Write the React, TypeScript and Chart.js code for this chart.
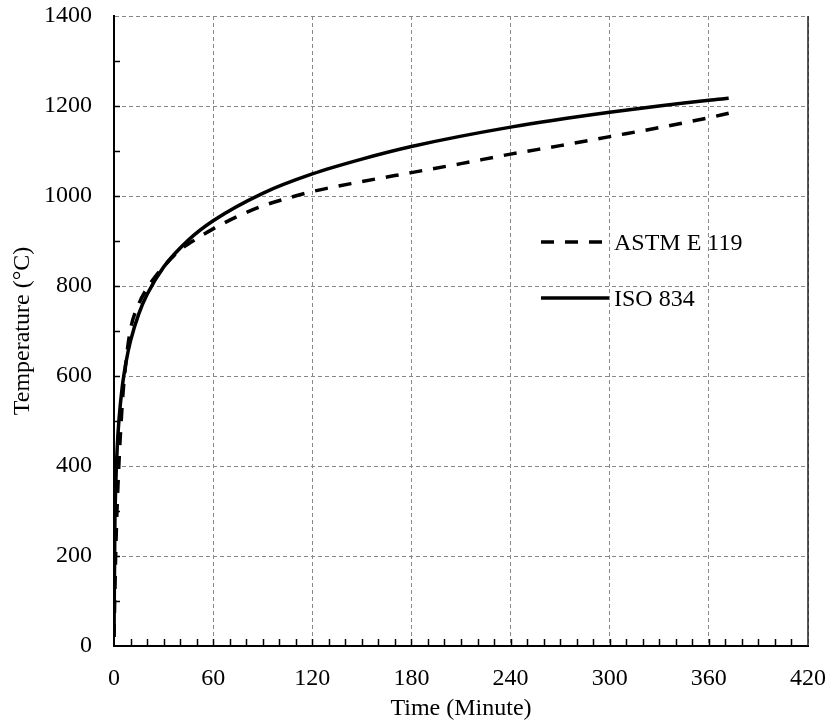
import React, { useEffect, useRef } from "react";
import { Chart, registerables } from "chart.js";
Chart.register(...registerables);

// ---- data ----
const astmLabel = "ASTM E 119";
const isoLabel = "ISO 834";
const astmTimes = [0, 1, 2, 5, 7.5, 10, 15, 20, 25, 30, 40, 50, 60, 75, 90, 105, 120, 150, 180, 210, 240, 270, 300, 330, 360, 372];
const astmTemps = [20, 200, 320, 538, 640, 704, 760, 795, 821, 843, 880, 905, 927, 955, 978, 995, 1010, 1032, 1052, 1072, 1093, 1112, 1132, 1152, 1174, 1184];
const isoTimes = [0, 0.5, 1, 2, 3, 5, 7.5, 10, 15, 20, 30, 45, 60, 90, 120, 150, 180, 240, 300, 360, 372];
const isoTemps = [20, 260, 350, 445, 502, 576, 635, 678, 738, 781, 842, 902, 945, 1006, 1049, 1082, 1110, 1153, 1186, 1213, 1217];

const xMin = 0, xMax = 420, xStep = 60, xMinor = 10;
const yMin = 0, yMax = 1400, yStep = 200, yMinor = 100;
const xTitle = "Time (Minute)";
const yTitle = "Temperature (°C)";

const FONT = "'Liberation Serif', 'Times New Roman', serif";

const decorPlugin = {
  id: "decor",
  afterDatasetsDraw(chart: any) {
    const { ctx, chartArea, scales } = chart;
    const xs = scales.x, ys = scales.y;
    ctx.save();
    // right frame line
    ctx.strokeStyle = "#222";
    ctx.lineWidth = 1.5;
    ctx.setLineDash([]);
    ctx.beginPath();
    ctx.moveTo(chartArea.right, chartArea.top);
    ctx.lineTo(chartArea.right, chartArea.bottom);
    ctx.stroke();
    // inward minor ticks
    ctx.strokeStyle = "#000";
    ctx.lineWidth = 1.5;
    for (let v = xMin + xMinor; v < xMax; v += xMinor) {
      const px = Math.round(xs.getPixelForValue(v)) + 0.5;
      ctx.beginPath();
      ctx.moveTo(px, chartArea.bottom);
      ctx.lineTo(px, chartArea.bottom - 7);
      ctx.stroke();
    }
    for (let v = yMin + yMinor; v < yMax; v += yMinor) {
      const py = Math.round(ys.getPixelForValue(v)) + 0.5;
      ctx.beginPath();
      ctx.moveTo(chartArea.left, py);
      ctx.lineTo(chartArea.left + 6, py);
      ctx.stroke();
    }
    // legend inside the plot
    const entries = [
      { ds: chart.data.datasets[0], y: Math.round(ys.getPixelForValue(898)) },
      { ds: chart.data.datasets[1], y: Math.round(ys.getPixelForValue(773)) },
    ];
    const x0 = chartArea.left + 427;
    ctx.font = `24px ${FONT}`;
    ctx.textBaseline = "middle";
    ctx.fillStyle = "#000";
    entries.forEach((e, i) => {
      ctx.strokeStyle = "#000";
      ctx.lineWidth = 3.5;
      ctx.lineCap = "butt";
      ctx.setLineDash(e.ds.borderDash || []);
      ctx.beginPath();
      ctx.moveTo(x0, e.y);
      ctx.lineTo(x0 + (i === 0 ? 62 : 68), e.y);
      ctx.stroke();
      ctx.setLineDash([]);
      ctx.fillText(e.ds.label, x0 + 73, e.y + 2);
    });
    ctx.restore();
  },
};

export default function App() {
  const ref = useRef<HTMLCanvasElement | null>(null);
  useEffect(() => {
    if (!ref.current) return;
    const chart = new Chart(ref.current, {
      type: "line",
      data: {
        datasets: [
          {
            label: astmLabel,
            data: astmTimes.map((t, i) => ({ x: t, y: astmTemps[i] })),
            borderColor: "#000",
            borderWidth: 3.5,
            borderDash: [13, 11],
            pointRadius: 0,
            cubicInterpolationMode: "monotone",
            fill: false,
          },
          {
            label: isoLabel,
            data: isoTimes.map((t, i) => ({ x: t, y: isoTemps[i] })),
            borderColor: "#000",
            borderWidth: 3.5,
            pointRadius: 0,
            cubicInterpolationMode: "monotone",
            fill: false,
          },
        ],
      },
      options: {
        animation: false,
        responsive: false,
        maintainAspectRatio: false,
        layout: { padding: { top: 16, right: 22, left: 0, bottom: 0 } },
        plugins: { legend: { display: false }, tooltip: { enabled: false } },
        font: { family: FONT, size: 24 },
        scales: {
          x: {
            type: "linear",
            min: xMin,
            max: xMax,
            afterFit: (s: any) => { s.height = 77; s.paddingLeft = 0; s.paddingRight = 0; },
            ticks: {
              stepSize: xStep,
              color: "#000",
              padding: 18,
              maxRotation: 0,
              font: { family: FONT, size: 24 },
              callback: (v: any) => String(v),
            },
            grid: { color: "#888", lineWidth: 1, drawTicks: false },
            border: { display: true, color: "#000", width: 2, dash: [4, 3] },
            title: {
              display: true,
              text: xTitle,
              color: "#000",
              font: { family: FONT, size: 24 },
              padding: { top: 0, bottom: 0 },
            },
          },
          y: {
            type: "linear",
            min: yMin,
            max: yMax,
            afterFit: (s: any) => { s.width = 114; s.paddingTop = 0; s.paddingBottom = 0; },
            ticks: {
              stepSize: yStep,
              color: "#000",
              padding: 22,
              font: { family: FONT, size: 24 },
              callback: (v: any) => String(v),
            },
            grid: { color: "#888", lineWidth: 1, drawTicks: false },
            border: { display: true, color: "#000", width: 2, dash: [4, 3] },
            title: {
              display: true,
              text: yTitle,
              color: "#000",
              font: { family: FONT, size: 24 },
              padding: { top: 8, bottom: 0 },
            },
          },
        },
      },
      plugins: [decorPlugin],
    } as any);
    return () => chart.destroy();
  }, []);
  return (
    <div style={{ position: "fixed", left: 0, top: 0, width: 830, height: 723, background: "#fff" }}>
      <canvas ref={ref} width={830} height={723} style={{ width: 830, height: 723, display: "block" }} />
    </div>
  );
}
